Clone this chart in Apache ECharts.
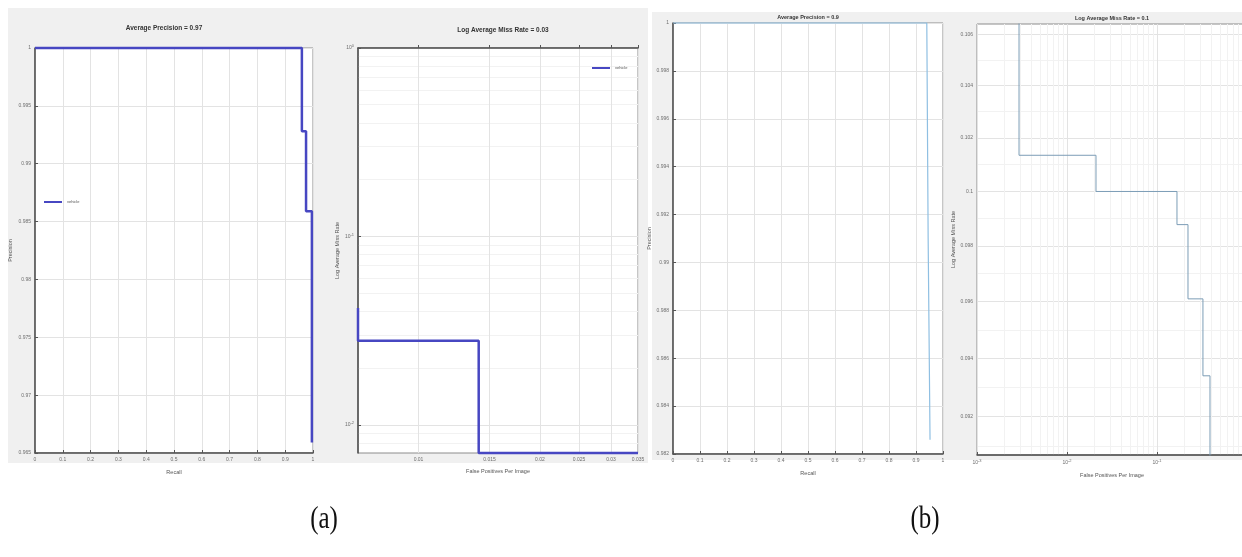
<!DOCTYPE html>
<html><head><meta charset="utf-8">
<script src="https://cdn.jsdelivr.net/npm/echarts@6/dist/echarts.min.js"></script>
<style>html,body{margin:0;padding:0;background:#fff}#c{width:1242px;height:557px}</style>
</head><body><div id="c"></div>
<script>
// ---------- data ----------
// (a) left: precision vs recall
const aRecall    = [0, 0.96, 0.96, 0.975, 0.975, 0.996, 0.996];
const aPrecision = [1, 1, 0.9928, 0.9928, 0.9859, 0.9859, 0.9659];
const recallTicks = [0, 0.1, 0.2, 0.3, 0.4, 0.5, 0.6, 0.7, 0.8, 0.9, 1];
// (a) right: miss rate vs FPPI (log-log)
const aFppi = [0.00708, 0.00708, 0.0141, 0.0141, 0.035];
const aMiss = [0.0418, 0.028, 0.028, 0.0071, 0.0071];
const aFppiTicks = [0.01, 0.015, 0.02, 0.025, 0.03, 0.035];
const aMissTicks = [0.01, 0.1, 1];
const aMissMinor = [0.008, 0.009, 0.02, 0.03, 0.04, 0.05, 0.06, 0.07, 0.08, 0.09, 0.2, 0.3, 0.4, 0.5, 0.6, 0.7, 0.8, 0.9];
// (b) left: precision vs recall
const bRecall    = [0, 0.94, 0.945, 0.952];
const bPrecision = [1, 1, 0.991, 0.9826];
// (b) right: miss rate vs FPPI (log-log)
const bFppi = [0.00293, 0.00293, 0.021, 0.021, 0.1667, 0.1667, 0.221, 0.221, 0.324, 0.324, 0.388, 0.388];
const bMiss = [0.108, 0.10135, 0.10135, 0.1, 0.1, 0.09878, 0.09878, 0.0961, 0.0961, 0.0934, 0.0934, 0.09];
const bFppiTicks = [0.001, 0.01, 0.1, 1];
const bFppiMinor = [0.002,0.003,0.004,0.005,0.006,0.007,0.008,0.009,0.02,0.03,0.04,0.05,0.06,0.07,0.08,0.09,0.2,0.3,0.4,0.5,0.6,0.7,0.8,0.9];
const bMissTicks = [0.092, 0.094, 0.096, 0.098, 0.1, 0.102, 0.104, 0.106];
const bMissMinor = [0.091, 0.093, 0.095, 0.097, 0.099, 0.101, 0.103, 0.105];
const seriesName = 'vehicle';

// ---------- helpers ----------
const L = v => Math.log10(v);
const pairs = (xs, ys, f) => xs.map((x, i) => f ? [L(x), L(ys[i])] : [x, ys[i]]);
const num = v => String(+(+v).toFixed(4));
const tickFont = {fontSize: 5, color: '#6e6e6e', fontFamily: 'Liberation Sans', margin: 4};
const powRich = {b: {fontSize: 5, color: '#6e6e6e'}, s: {fontSize: 4, color: '#6e6e6e', padding: [0, 0, 4, 0]}};
const powFmt = v => '{b|10}{s|' + Math.round(v) + '}';
const axLine = {show: true, lineStyle: {color: '#4d4d4d', width: 1.5}};
const split = {show: true, lineStyle: {color: '#e3e3e3', width: 1}};
const minorSplit = {show: true, lineStyle: {color: '#f2f2f2', width: 1}};
const tick = {show: true, inside: true, length: 3, lineStyle: {color: '#555'}};
const nameStyle = {fontSize: 5.5, color: '#555', fontFamily: 'Liberation Sans'};
const gridBase = {show: true, backgroundColor: '#fff', borderColor: '#8c8c8c', borderWidth: 1, containLabel: false, outerBoundsMode: 'none'};

function minorAxis(gridIndex, min, max, values, pos) {
  return {type: 'value', gridIndex, min, max, position: pos,
    axisLine: {show: false}, axisLabel: {show: false},
    axisTick: {show: false, customValues: values.map(L)}, splitLine: minorSplit};
}

const chart = echarts.init(document.getElementById('c'));
chart.setOption({
  animation: false,
  backgroundColor: '#fff',
  graphic: [
    {type: 'rect', z: -10, shape: {x: 8, y: 8, width: 640, height: 455}, style: {fill: '#f0f0f0'}},
    {type: 'rect', z: -10, shape: {x: 652, y: 12, width: 590, height: 448}, style: {fill: '#f0f0f0'}},
    {type: 'text', x: 164, y: 28, style: {text: 'Average Precision = 0.97', align: 'center', verticalAlign: 'middle', font: 'bold 6.5px "Liberation Sans"', fill: '#333'}},
    {type: 'text', x: 503, y: 30, style: {text: 'Log Average Miss Rate = 0.03', align: 'center', verticalAlign: 'middle', font: 'bold 6.5px "Liberation Sans"', fill: '#333'}},
    {type: 'text', x: 808, y: 17, style: {text: 'Average Precision = 0.9', align: 'center', verticalAlign: 'middle', font: 'bold 5.5px "Liberation Sans"', fill: '#333'}},
    {type: 'text', x: 1112, y: 18, style: {text: 'Log Average Miss Rate = 0.1', align: 'center', verticalAlign: 'middle', font: 'bold 5.5px "Liberation Sans"', fill: '#333'}},
    {type: 'text', x: 324, y: 520, scaleX: 0.78, style: {text: '(a)', align: 'center', verticalAlign: 'middle', font: '32px "Liberation Serif"', fill: '#111'}},
    {type: 'text', x: 925, y: 520, scaleX: 0.78, style: {text: '(b)', align: 'center', verticalAlign: 'middle', font: '32px "Liberation Serif"', fill: '#111'}}
  ],
  grid: [
    Object.assign({left: 35, top: 48, width: 278, height: 405}, gridBase),
    Object.assign({left: 358, top: 48, width: 280, height: 405}, gridBase),
    Object.assign({left: 673, top: 23, width: 270, height: 431}, gridBase),
    Object.assign({left: 977, top: 24, width: 270, height: 431}, gridBase)
  ],
  legend: [
    {data: [seriesName], left: 44, top: 200, itemWidth: 18, itemHeight: 2, icon: 'rect', itemGap: 2,
     textStyle: {fontSize: 4, color: '#555'}, padding: 0},
    {data: [seriesName], left: 592, top: 66, itemWidth: 18, itemHeight: 2, icon: 'rect', itemGap: 2,
     textStyle: {fontSize: 4, color: '#555'}, padding: 0}
  ],
  xAxis: [
    {type: 'value', gridIndex: 0, min: 0, max: 1, interval: 0.1, axisLine: axLine, axisTick: tick, splitLine: split,
     axisLabel: Object.assign({formatter: num}, tickFont),
     name: 'Recall', nameLocation: 'middle', nameGap: 16, nameTextStyle: nameStyle},
    {type: 'value', gridIndex: 1, min: L(0.00708), max: L(0.035), axisLine: axLine, splitLine: split,
     axisTick: Object.assign({customValues: aFppiTicks.map(L)}, tick),
     axisLabel: Object.assign({customValues: aFppiTicks.map(L), formatter: v => num(Math.pow(10, v))}, tickFont),
     name: 'False Positives Per Image', nameLocation: 'middle', nameGap: 15, nameTextStyle: nameStyle},
    {type: 'value', gridIndex: 2, min: 0, max: 1, interval: 0.1, axisLine: axLine, axisTick: tick, splitLine: split,
     axisLabel: Object.assign({formatter: num}, tickFont),
     name: 'Recall', nameLocation: 'middle', nameGap: 16, nameTextStyle: nameStyle},
    {type: 'value', gridIndex: 3, min: -3, max: 0, axisLine: axLine, splitLine: split,
     axisTick: Object.assign({customValues: bFppiTicks.map(L)}, tick),
     axisLabel: Object.assign({customValues: bFppiTicks.map(L), formatter: powFmt, rich: powRich}, tickFont),
     name: 'False Positives Per Image', nameLocation: 'middle', nameGap: 17, nameTextStyle: nameStyle},
    minorAxis(3, -3, 0, bFppiMinor, 'top')
  ],
  yAxis: [
    {type: 'value', gridIndex: 0, min: 0.965, max: 1, interval: 0.005, axisLine: axLine, axisTick: tick, splitLine: split,
     axisLabel: Object.assign({formatter: num}, tickFont),
     name: 'Precision', nameLocation: 'middle', nameGap: 22, nameTextStyle: nameStyle},
    {type: 'value', gridIndex: 1, min: L(0.0071), max: 0, axisLine: axLine, splitLine: split,
     axisTick: Object.assign({customValues: aMissTicks.map(L)}, tick),
     axisLabel: Object.assign({customValues: aMissTicks.map(L), formatter: powFmt, rich: powRich}, tickFont),
     name: 'Log Average Miss Rate', nameLocation: 'middle', nameGap: 16, nameTextStyle: nameStyle},
    {type: 'value', gridIndex: 2, min: 0.982, max: 1, interval: 0.002, axisLine: axLine, axisTick: tick, splitLine: split,
     axisLabel: Object.assign({formatter: num}, tickFont),
     name: 'Precision', nameLocation: 'middle', nameGap: 19, nameTextStyle: nameStyle},
    {type: 'value', gridIndex: 3, min: L(0.0907), max: L(0.1064), axisLine: axLine, splitLine: split,
     axisTick: Object.assign({customValues: bMissTicks.map(L)}, tick),
     axisLabel: Object.assign({customValues: bMissTicks.map(L), formatter: v => num(Math.pow(10, v))}, tickFont),
     name: 'Log Average Miss Rate', nameLocation: 'middle', nameGap: 20, nameTextStyle: nameStyle},
    minorAxis(1, L(0.0071), 0, aMissMinor, 'right'),
    minorAxis(3, L(0.0907), L(0.1064), bMissMinor, 'right')
  ],
  series: [
    {type: 'line', name: seriesName, xAxisIndex: 0, yAxisIndex: 0, data: pairs(aRecall, aPrecision, false),
     showSymbol: false, clip: false, lineStyle: {color: '#4747c2', width: 2.5}, itemStyle: {color: '#4747c2'}, z: 5},
    {type: 'line', name: seriesName, xAxisIndex: 1, yAxisIndex: 1, data: pairs(aFppi, aMiss, true),
     showSymbol: false, clip: false, lineStyle: {color: '#4747c2', width: 2.5}, itemStyle: {color: '#4747c2'}, z: 5},
    {type: 'line', name: 'b-precision', xAxisIndex: 2, yAxisIndex: 2, data: pairs(bRecall, bPrecision, false),
     showSymbol: false, clip: false, lineStyle: {color: '#8fbfe2', width: 1.2}, itemStyle: {color: '#8fbfe2'}, z: 5},
    {type: 'line', name: 'b-missrate', xAxisIndex: 3, yAxisIndex: 3, data: pairs(bFppi, bMiss, true),
     showSymbol: false, clip: true, lineStyle: {color: '#7c9db6', width: 1}, itemStyle: {color: '#7c9db6'}, z: 5}
  ]
});
</script></body></html>
